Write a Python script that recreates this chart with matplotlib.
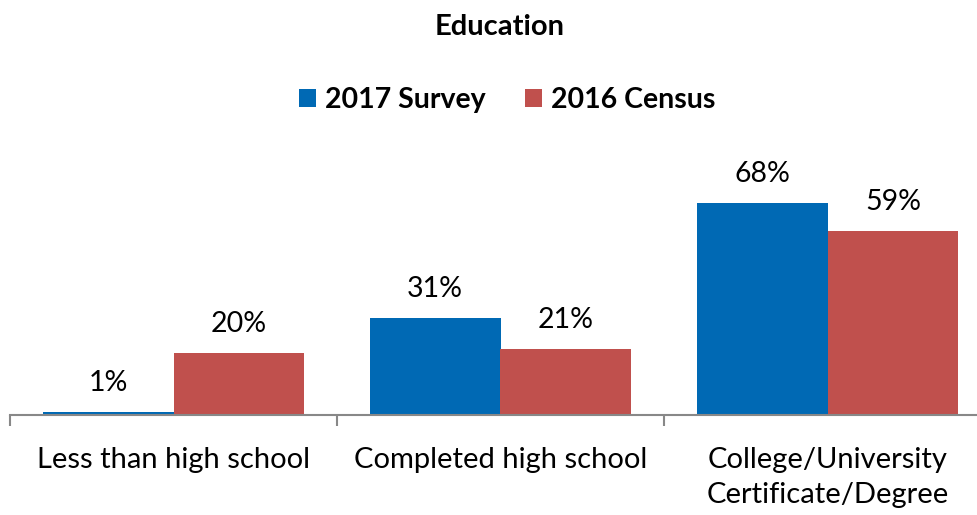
import matplotlib
matplotlib.use("Agg")
import matplotlib.pyplot as plt
import numpy as np

categories = ["Less than high school", "Completed high school", "College/University\nCertificate/Degree"]
series_names = ["2017 Survey", "2016 Census"]
survey_2017 = [1, 31, 68]
census_2016 = [20, 21, 59]
colors = ["#0069B4", "#C0504D"]

plt.rcParams["font.family"] = ["Lato", "DejaVu Sans"]

W, H = 978, 515
fig = plt.figure(figsize=(W / 100, H / 100), dpi=100)
base_y = 415
px_per_unit = 3.12
ymax = 90
ax_h = ymax * px_per_unit
ax = fig.add_axes([10 / W, (H - base_y) / H, 981 / W, ax_h / H])

x = np.arange(len(categories))
bw = 0.4
values = [survey_2017, census_2016]
for i, (name, vals) in enumerate(zip(series_names, values)):
    pos = x + (i - 0.5) * bw
    bars = ax.bar(pos, vals, width=bw, color=colors[i], label=name)
    for b, v in zip(bars, vals):
        ax.text(b.get_x() + b.get_width() / 2, v + 9.3, f"{v}%",
                ha="center", va="center", fontsize=20.5, color="#000000")

ax.set_xlim(-0.5, len(categories) - 0.5)
ax.set_ylim(0, ymax)
for s in ["top", "right", "left"]:
    ax.spines[s].set_visible(False)
ax.spines["bottom"].set_color("#888888")
ax.spines["bottom"].set_linewidth(1.5)
ax.set_yticks([])

ax.set_xticks(np.arange(-0.5, len(categories), 1.0))
ax.set_xticklabels([])
ax.tick_params(axis="x", which="major", length=8, width=1.5, color="#888888", direction="out")
ax.set_xticks(x, minor=True)
ax.set_xticklabels(categories, minor=True, fontsize=21, linespacing=1.45)
ax.tick_params(axis="x", which="minor", length=0, pad=23)

fig.text(500 / W, 1 - 27 / H, "Education", ha="center", va="center", fontsize=21, fontweight="bold")

leg = fig.legend(loc="center", bbox_to_anchor=(507 / W, 1 - 100 / H), ncol=2, frameon=False,
                 prop={"size": 20.5, "weight": "bold"}, handlelength=0.6, handleheight=0.6,
                 columnspacing=1.4, handletextpad=0.3)

fig.savefig("out.png", dpi=100)
